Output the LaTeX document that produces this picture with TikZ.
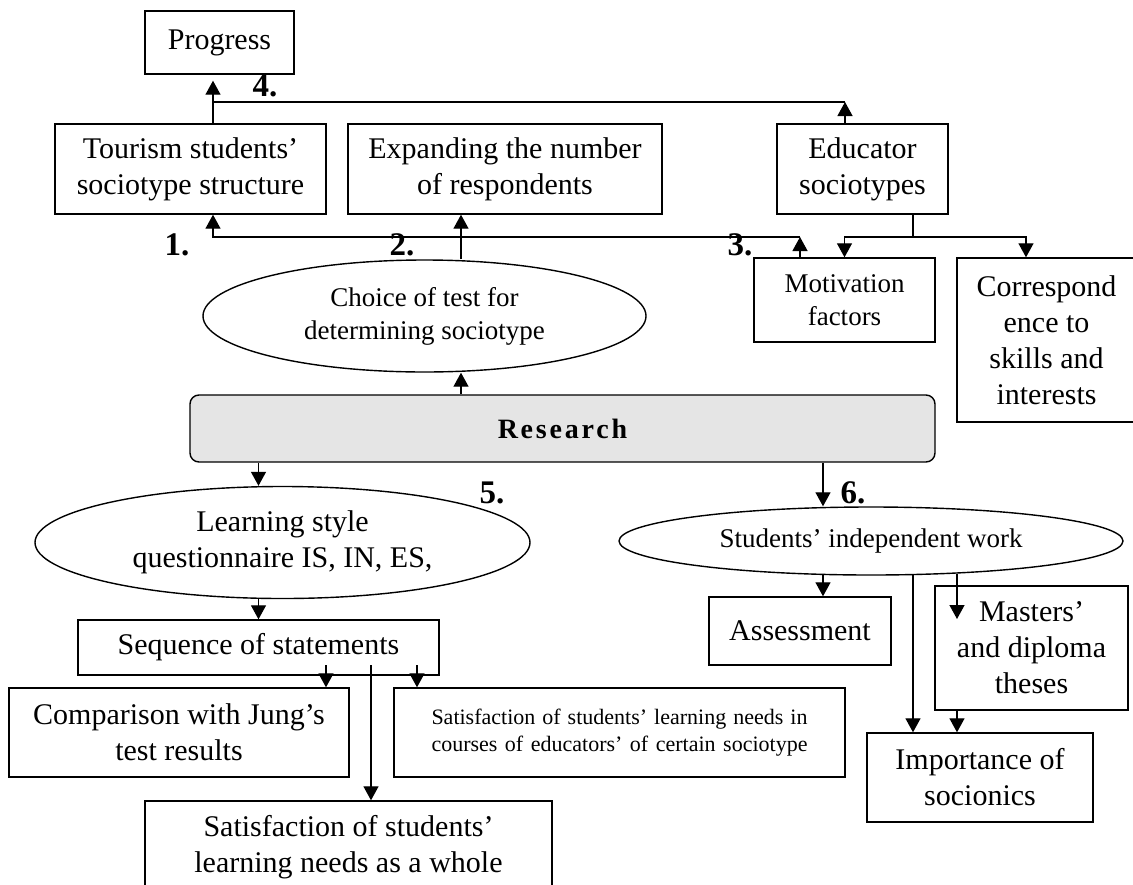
\documentclass[tikz,border=0pt]{standalone}
\usepackage{fontspec}
\setmainfont{Liberation Serif}
\usetikzlibrary{shapes.geometric,arrows.meta}
\newcommand{\bigtxt}{\fontsize{30}{36}\selectfont}
\newcommand{\midtxt}{\fontsize{27}{33}\selectfont}
\newcommand{\smltxt}{\fontsize{22}{27}\selectfont}
\newcommand{\numtxt}{\fontsize{33}{36}\selectfont\bfseries}
\newcommand{\restxt}{\fontsize{28}{34}\selectfont\bfseries\addfontfeature{LetterSpace=10}}
\tikzset{box/.style={draw,rectangle,line width=1.4pt,inner sep=0pt,align=center,font=\bigtxt},
  oval/.style={draw,ellipse,line width=1.4pt,inner sep=0pt,align=center,font=\bigtxt},
  sz/.style 2 args={minimum width=#1pt,minimum height=#2pt},
  arr/.style={-{Triangle[length=14pt,width=15pt]},line width=1.3pt},
  num/.style={inner sep=0pt,font=\numtxt}}

\begin{document}
\begin{tikzpicture}[x=1pt,y=-1pt]
  \useasboundingbox (0,0) rectangle (1133,884);
  \node[box,sz={149}{63}] (prog) at (219.5,42.5) {Progress};
  \node[box,sz={271}{90}] (tour) at (190.5,169) {Tourism students'\\sociotype structure};
  \node[box,sz={314}{90}] (expd) at (505,169) {Expanding the number\\of respondents};
  \node[box,sz={171}{90}] (educ) at (862.5,169) {Educator\\sociotypes};
  \node[oval,sz={443}{112},font=\midtxt] (choice) at (424.5,316) {Choice of test for\\determining sociotype};
  \node[box,sz={181}{84},font=\midtxt] (motiv) at (844.5,300) {Motivation\\factors};
  \node[box,sz={179}{164}] (corr) at (1046.5,340) {Correspond\\ence to\\skills and\\interests};
  \node[box,sz={745}{67},rounded corners=9pt,fill=black!10,font=\restxt] (research) at (562.5,428.5) {Research};
  \node[oval,sz={495}{112}] (learn) at (282.5,542.5) {Learning style\\questionnaire IS, IN, ES,};
  \node[oval,sz={504}{68},font=\midtxt] (stud) at (871,541) {Students' independent work};
  \node[box,sz={361}{55}] (seq) at (258.5,647.5) {Sequence of statements};
  \node[box,sz={340}{89}] (comp) at (179,732.5) {Comparison with Jung's\\test results};
  \node[box,sz={451}{89},font=\smltxt] (satc) at (619.5,732.5) {\raisebox{7pt}{\begin{tabular}{@{}l@{}}\makebox[376pt][s]{Satisfaction of students' learning needs in}\\\makebox[376pt][s]{courses of educators' of certain sociotype}\end{tabular}}};
  \node[box,sz={407}{92}] (satw) at (348.5,847) {Satisfaction of students'\\learning needs as a whole};
  \node[box,sz={182}{68}] (assess) at (800,631) {Assessment};
  \node[box,sz={193}{124}] (mast) at (1031.5,648) {Masters'\\and diploma\\theses};
  \node[box,sz={226}{89}] (impt) at (980,777.5) {Importance of\\socionics};
  \node[num] (n1) at (177,245) {1.};
  \node[num] (n2) at (402,245) {2.};
  \node[num] (n3) at (740,245) {3.};
  \node[num] (n4) at (265,86) {4.};
  \node[num] (n5) at (492,493) {5.};
  \node[num] (n6) at (853,493) {6.};
  \coordinate (c1) at (213,237);
  \coordinate (c2) at (461,237);
  \coordinate (c3) at (800,237);
  \coordinate (c4) at (213,102);
  \coordinate (j4) at (845,102);
  \coordinate (e1) at (913,237);
  \coordinate (e2) at (1026,237);
  \coordinate (s1) at (326,665);
  \coordinate (s2) at (371,665);
  \coordinate (s3) at (417,665);
  \coordinate (d1) at (823,574);
  \coordinate (d2) at (913,574);
  \coordinate (d3) at (957,574);
  \coordinate (m1) at (957,619);
  \draw[arr,shorten >=6pt] (tour.north -| c4) -- (c4) -- (prog.south -| c4);
  \draw[line width=1.3pt] (c4) -- (j4);
  \draw[arr] (educ.north -| j4) -- (j4);
  \draw[arr] (motiv.north -| c3) -- (c3);
  \draw[arr] (c3) -- (c1) -- (tour.south -| c1);
  \draw[arr] (choice.north -| c2) -- (expd.south -| c2);
  \draw[arr] (research.north -| c2) -- (choice.south -| c2);
  \draw[line width=1.3pt] (educ.south -| e1) -- (e1);
  \draw[arr] (e1) -| (motiv.north);
  \draw[arr] (e1) -- (e2) -- (corr.north -| e2);
  \draw[arr] (research.south -| seq.north) -- (learn.north -| seq.north);
  \draw[arr] (learn.south -| seq.north) -- (seq.north);
  \draw[arr] (s1) -- (comp.north -| s1);
  \draw[arr] (s2) -- (satw.north -| s2);
  \draw[arr] (s3) -- (satc.north -| s3);
  \draw[arr] (research.south -| d1) -- (stud.north -| d1);
  \draw[arr] (d1) -- (assess.north -| d1);
  \draw[arr] (d2) -- (impt.north -| d2);
  \draw[arr] (d3) -- (m1);
  \draw[arr] (mast.south -| d3) -- (impt.north -| d3);
\end{tikzpicture}
\end{document}
